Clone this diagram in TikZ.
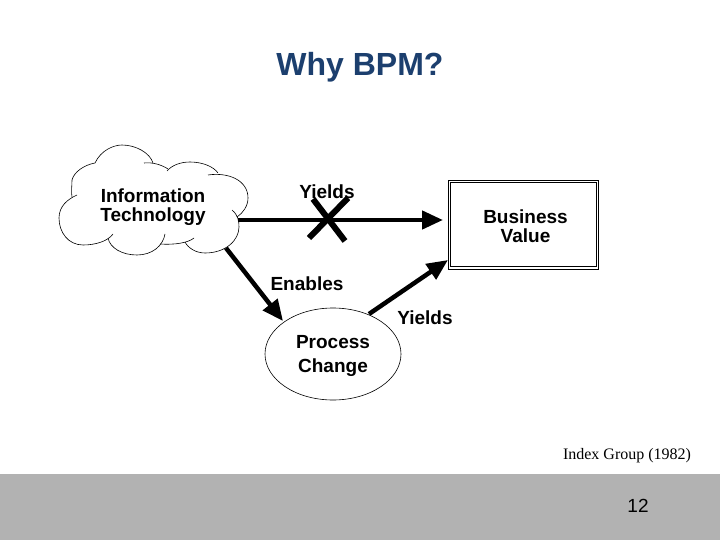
\documentclass[tikz,border=0pt]{standalone}
\usepackage{fontspec}
\setmainfont{Liberation Sans}
\newfontfamily\timesfam{Liberation Serif}
\usetikzlibrary{arrows.meta,shapes.geometric}
\definecolor{titleblue}{HTML}{1C3F6E}
\definecolor{bandgrey}{HTML}{B2B2B2}
\tikzset{
  lbl/.style={font=\fontsize{19}{19}\selectfont\bfseries, align=center, inner sep=0},
  outline/.style={draw=black, line width=0.6pt},
  bigarrow/.style={line width=4.5pt, -{Triangle[length=21pt,width=18pt]}},
  crossbar/.style={line width=6pt},
}
\begin{document}
\begin{tikzpicture}[x=1pt,y=-1pt]
    \useasboundingbox (0,0) rectangle (720,540);
    \fill[bandgrey] (0,474) rectangle (720,540);

    \node[font=\fontsize{32}{32}\selectfont\bfseries, text=titleblue, inner sep=0] (title) at (360,67.5) {Why BPM?};

    % cloud, lobe by lobe
    \draw[outline]
        (95,163) .. controls (101,150) and (114,145) .. (122,145)
                 .. controls (136,145) and (150,153) .. (153,163);
    \draw[outline]
        (144,163) .. controls (153,162) and (162,165) .. (168,169);
    \draw[outline]
        (167,171) .. controls (172,165) and (181,162) .. (190,162)
                  .. controls (203,162) and (214,167) .. (218,173);
    \draw[outline]
        (208,175) .. controls (228,172) and (248,180) .. (248,198)
                  .. controls (248,206) and (243,213) .. (237,217);
    \draw[outline]
        (232,210) .. controls (238,215) and (239,221) .. (239,227)
                  .. controls (239,240) and (226,253) .. (205,253)
                  .. controls (196,253) and (188,248) .. (185,242);
    \draw[outline]
        (194,238) .. controls (188,243) and (174,245) .. (160,244);
    \draw[outline]
        (165,234) .. controls (163,246) and (152,255) .. (137,255)
                  .. controls (122,255) and (110,248) .. (108,238);
    \draw[outline]
        (113,234) .. controls (108,241) and (96,245) .. (83,245)
                  .. controls (68,245) and (59,232) .. (59,218)
                  .. controls (59,206) and (68,199) .. (77,195);
    \draw[outline]
        (72,197) .. controls (71,192) and (72,186) .. (72,180)
                 .. controls (74,172) and (84,165) .. (95,163);
    \node[lbl] (it) at (153,207) {Information\\Technology};

    % double frame
    \node[rectangle, draw=black, line width=0.9pt, minimum width=150pt, minimum height=89pt, inner sep=0] (bv) at (523,224.5) {};
    \node[rectangle, draw=black, line width=0.9pt, minimum width=146pt, minimum height=84pt, inner sep=0] (bvin) at (523,224.5) {};
    \node[lbl] (bvt) at (525.5,226) {Business\\Value};

    \node[ellipse, outline, minimum width=136pt, minimum height=92pt, inner sep=0] (pc) at (333,354) {};
    \node[lbl] (pct) at (333,356) {Process\\[5pt]Change};

    \coordinate (itright) at (238,220);
    \coordinate (itlow) at (226,248);
    \coordinate (bvleft) at (443,220);
    \coordinate (bvlow) at (448,260);
    \coordinate (pctop) at (283,321);
    \coordinate (pcright) at (369,314);

    \draw[bigarrow] (itright) -- (bvleft);
    \draw[bigarrow] (itlow) -- (pctop);
    \draw[bigarrow] (pcright) -- (bvlow);

    % the cross on the direct arrow
    \coordinate (xa) at (313,199);
    \coordinate (xb) at (345,241);
    \coordinate (xc) at (348,198);
    \coordinate (xd) at (309,238);
    \draw[crossbar] (xa) -- (xb);
    \draw[crossbar] (xc) -- (xd);

    \node[lbl] (y1) at (327,191.5) {Yields};
    \node[lbl] (en) at (307,283.5) {Enables};
    \node[lbl] (y2) at (425,317.5) {Yields};

    \node[font=\timesfam\fontsize{16}{16}\selectfont, inner sep=0] (src) at (627,456) {Index Group (1982)};
    \node[font=\fontsize{19}{19}\selectfont, inner sep=0] (pg) at (638,505.5) {12};
\end{tikzpicture}
\end{document}
